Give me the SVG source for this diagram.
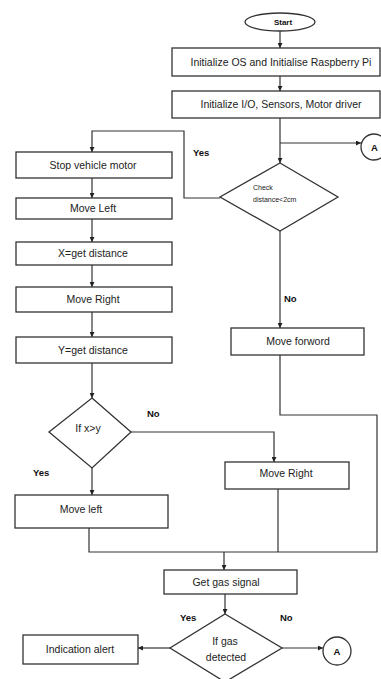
<svg xmlns="http://www.w3.org/2000/svg" width="381" height="679" viewBox="0 0 381 679">
<defs>
<marker id="ah" viewBox="0 0 10 10" refX="10" refY="5" markerWidth="5" markerHeight="5" markerUnits="userSpaceOnUse" orient="auto">
<path d="M0,0 L10,5 L0,10 Z" fill="#222"/>
</marker>
<style>
.box{fill:#fff;stroke:#333;stroke-width:1.3}
.ln{fill:none;stroke:#333;stroke-width:1.2}
.ar{fill:none;stroke:#333;stroke-width:1.2;marker-end:url(#ah)}
.t{font-family:"Liberation Sans",Arial,sans-serif;font-size:10.5px;fill:#222;text-anchor:middle}
.s{font-family:"Liberation Sans",Arial,sans-serif;font-size:7px;fill:#222}
.b{font-family:"Liberation Sans",Arial,sans-serif;font-size:9.5px;font-weight:bold;fill:#111}
</style>
</defs>
<rect width="381" height="679" fill="#fff"/>
<g id="connectors">
<path class="ar" d="M280,31 V48"/>
<path class="ar" d="M280,76 V91"/>
<path class="ar" d="M280,118 V163"/>
<path class="ar" d="M280,143 H361"/>
<path class="ar" d="M220,198 H184 V131 H92 V152"/>
<path class="ar" d="M92,178 V198"/>
<path class="ar" d="M92,219 V242"/>
<path class="ar" d="M92,265 V287"/>
<path class="ar" d="M92,312 V337"/>
<path class="ar" d="M92,363 V398"/>
<path class="ar" d="M131,432 H274 V462"/>
<path class="ar" d="M92,468 V495"/>
<path class="ar" d="M280,231 V328"/>
<path class="ln" d="M280,355 V415 H377 V552 H89 V528"/>
<path class="ln" d="M278,489 V552"/>
<path class="ar" d="M224,552 V570"/>
<path class="ar" d="M225,594 V614"/>
<path class="ar" d="M170,648 H138"/>
<path class="ar" d="M282,648 H323"/>
</g>
<g id="start">
<ellipse cx="280" cy="22" rx="35" ry="9" class="box"/>
<text x="283" y="25" class="b" style="font-size:8px" text-anchor="middle">Start</text>
</g>
<g id="init-os">
<rect x="172" y="48" width="208" height="28" class="box"/>
<text x="281" y="66" class="t">Initialize OS and Initialise Raspberry Pi</text>
</g>
<g id="init-io">
<rect x="172" y="91" width="208" height="27" class="box"/>
<text x="281" y="108" class="t">Initialize I/O, Sensors, Motor driver</text>
</g>
<g id="connector-a1">
<circle cx="374" cy="147" r="13" class="box"/>
<text x="374.5" y="150.5" class="b" text-anchor="middle">A</text>
</g>
<g id="check-distance">
<polygon points="280,163 338,197 280,231 220,197" class="box"/>
<text x="253" y="190" class="s">Check</text>
<text x="253" y="202" class="s">distance&lt;2cm</text>
</g>
<text x="193" y="156" class="b">Yes</text>
<text x="284" y="302" class="b">No</text>
<g id="stop-motor">
<rect x="16" y="152" width="156" height="26" class="box"/>
<text x="93" y="169" class="t">Stop vehicle motor</text>
</g>
<g id="move-left-1">
<rect x="16" y="198" width="156" height="21" class="box"/>
<text x="93" y="212" class="t">Move Left</text>
</g>
<g id="x-get-distance">
<rect x="16" y="242" width="156" height="23" class="box"/>
<text x="93" y="257" class="t">X=get distance</text>
</g>
<g id="move-right-1">
<rect x="16" y="287" width="156" height="25" class="box"/>
<text x="93" y="303" class="t">Move Right</text>
</g>
<g id="y-get-distance">
<rect x="16" y="337" width="156" height="26" class="box"/>
<text x="93" y="353.5" class="t">Y=get distance</text>
</g>
<g id="if-x-gt-y">
<polygon points="92,398 131,432 92,468 49,432" class="box"/>
<text x="88" y="432" class="t">If x&gt;y</text>
</g>
<text x="147" y="417" class="b">No</text>
<text x="33" y="476" class="b">Yes</text>
<g id="move-left-2">
<rect x="15" y="495" width="153" height="33" class="box"/>
<text x="81" y="513" class="t">Move left</text>
</g>
<g id="move-right-2">
<rect x="225" y="462" width="124" height="27" class="box"/>
<text x="286" y="477" class="t">Move Right</text>
</g>
<g id="move-forword">
<rect x="231" y="328" width="133" height="27" class="box"/>
<text x="298" y="345" class="t">Move forword</text>
</g>
<g id="get-gas-signal">
<rect x="164" y="570" width="133" height="24" class="box"/>
<text x="226" y="585.5" class="t">Get gas signal</text>
</g>
<g id="if-gas-detected">
<polygon points="225,614 282,648 225,682 170,648" class="box"/>
<text x="225" y="645" class="t">If gas</text>
<text x="226" y="661" class="t">detected</text>
</g>
<text x="180" y="621" class="b">Yes</text>
<text x="280" y="621" class="b">No</text>
<g id="indication-alert">
<rect x="23" y="635" width="115" height="29" class="box"/>
<text x="80" y="653" class="t">Indication alert</text>
</g>
<g id="connector-a2">
<circle cx="337" cy="651" r="14" class="box"/>
<text x="337" y="655" class="b" text-anchor="middle">A</text>
</g>
</svg>
